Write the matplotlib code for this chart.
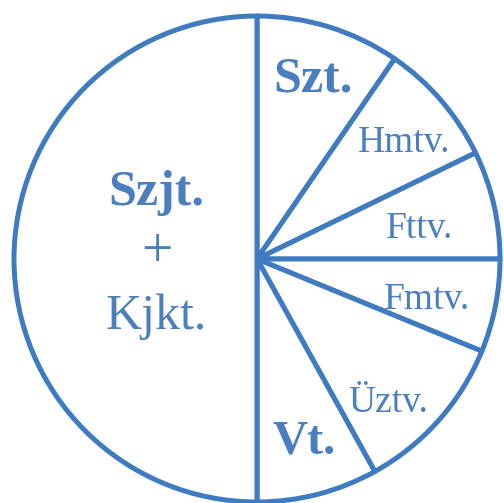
import matplotlib
matplotlib.use("Agg")
import matplotlib.pyplot as plt

# 扇区数据（按顺时针，从12点方向开始），数值为角度
slice_names = ["Szt.", "Hmtv.", "Fttv.", "Fmtv.", "Üztv.", "Vt.", "Szjt.+Kjkt."]
slice_values = [34.5, 29.6, 25.9, 22.3, 38.7, 29.0, 180.0]

# 标签文字
label_texts = ["Szt.", "Hmtv.", "Fttv.", "Fmtv.", "Üztv.", "Vt.", "Szjt.", "+", "Kjkt."]
label_bold = [True, False, False, False, False, True, True, False, False]

# 布局（像素坐标，y 向下），仅用于排版
W, H = 504, 503
CX, CY, R = 257, 259, 243
label_px = [(313, 92), (404, 152), (420, 238), (427, 309), (388, 412),
            (304, 453), (156, 205), (157, 253), (156, 329)]
label_size = [36, 27, 27, 27, 27, 35, 36, 40, 36]
label_va = ["baseline"] * 6 + ["baseline", "center", "baseline"]

LINE = "#3f7bc1"
TEXT = "#4a7ebf"


def to_data(px, py):
    return (px - CX) / R, (CY - py) / R


def main():
    plt.rcParams["font.family"] = ["Liberation Serif", "DejaVu Serif"]
    fig = plt.figure(figsize=(W / 100, H / 100), dpi=100)
    ax = fig.add_axes([0, 0, 1, 1])

    ax.pie(slice_values, startangle=90, counterclock=False, radius=1,
           colors=["white"] * len(slice_values),
           wedgeprops=dict(edgecolor=LINE, linewidth=3.6, joinstyle="round"))

    for txt, (px, py), size, bold, va in zip(label_texts, label_px, label_size,
                                             label_bold, label_va):
        x, y = to_data(px, py)
        ax.text(x, y, txt, ha="center", va=va, fontsize=size, color=TEXT,
                fontweight="bold" if bold else "normal")

    ax.set_xlim(-CX / R, (W - CX) / R)
    ax.set_ylim(-(H - CY) / R, CY / R)
    ax.set_aspect("auto")
    ax.axis("off")
    fig.savefig("out.png", dpi=100, facecolor="white")


if __name__ == "__main__":
    main()
